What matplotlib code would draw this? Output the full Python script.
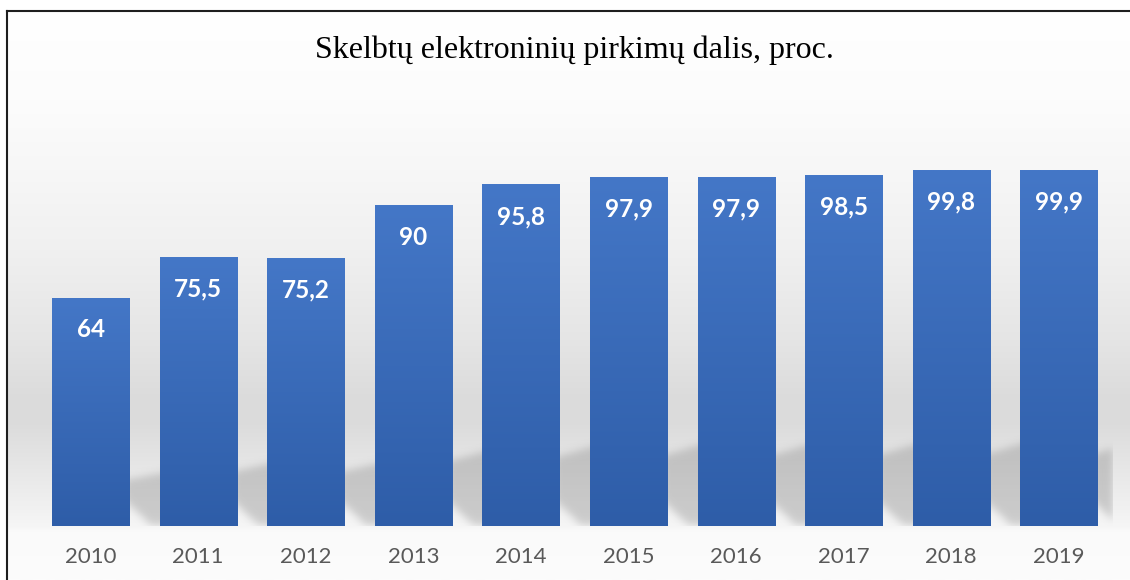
import numpy as np
import matplotlib.pyplot as plt
from matplotlib.path import Path
from matplotlib.lines import Line2D
from matplotlib.colors import LinearSegmentedColormap

plt.rcParams['font.family'] = ['Lato', 'DejaVu Sans']

# data
years = ['2010', '2011', '2012', '2013', '2014', '2015', '2016', '2017', '2018', '2019']
shares = [64, 75.5, 75.2, 90, 95.8, 97.9, 97.9, 98.5, 99.8, 99.9]
title = 'Skelbtų elektroninių pirkimų dalis, proc.'

W, H = 1130, 580
fig = plt.figure(figsize=(W / 100, H / 100), dpi=100)

# background gradient behind the whole chart area
bg = fig.add_axes([7 / W, 0, 1 - 7 / W, 1 - 11 / H], zorder=-5)
rows = np.arange(11, 581)
stops_y = [11, 100, 170, 250, 340, 400, 425, 465, 510, 527, 532, 580]
stops_v = [255, 252, 247, 240, 229, 219, 220, 230, 241, 246, 250, 252]
col = np.interp(rows, stops_y, stops_v) / 255
bg.imshow(np.repeat(col[:, None], 3, axis=1)[:, None, :], aspect='auto',
          extent=(0, 1, 0, 1), interpolation='bilinear')
bg.axis('off')

# main axes
ax = fig.add_axes([36.7 / W, (H - 525.7) / H, 1076 / W, (525.7 - 98.5) / H])
ax.patch.set_alpha(0)
x = np.arange(len(years))
bars = ax.bar(x, shares, width=0.716, color='none', zorder=3)

# gradient fill for each bar
bar_cmap = LinearSegmentedColormap.from_list('bar', ['#2E5DA8', '#4477C7'])
grad = np.linspace(0, 1, 256)[:, None]
for rect in bars:
    x0 = rect.get_x()
    ax.imshow(grad, extent=(x0, x0 + rect.get_width(), 0, rect.get_height()),
              origin='lower', aspect='auto', cmap=bar_cmap, zorder=3)

# soft shadows in the gaps behind the bars
ymax_sh = 40
gx = np.linspace(-0.5, 9.5, 1076)
gy = np.linspace(0, ymax_sh, int(ymax_sh * 3.56))
XX, YY = np.meshgrid(gx, gy)
pts = np.column_stack([XX.ravel(), YY.ravel()])
mask = np.zeros(XX.shape)
for rect in bars:
    x1 = rect.get_x() + rect.get_width()
    h = rect.get_height()
    poly = Path([(x1 - 0.05, 7.3), (x1 + 0.2, 0), (x1 + 0.45, 0),
                 (x1 + 0.45, 0.245 * h), (x1 - 0.05, 0.2 * h), (x1 - 0.05, 7.3)])
    mask = np.maximum(mask, poly.contains_points(pts).reshape(XX.shape))
k = np.exp(-0.5 * (np.arange(-12, 13) / 4.0) ** 2)
k /= k.sum()
mask = np.apply_along_axis(lambda r: np.convolve(r, k, mode='same'), 1, mask)
mask = np.apply_along_axis(lambda c: np.convolve(c, k, mode='same'), 0, mask)
shadow = np.zeros(XX.shape + (4,))
shadow[..., :3] = 0.5
shadow[..., 3] = mask * 0.34
ax.imshow(shadow, extent=(-0.5, 9.5, 0, ymax_sh), origin='lower', aspect='auto',
          interpolation='bilinear', zorder=1)

# value labels
for rect, v in zip(bars, shares):
    ax.annotate(f'{v:g}'.replace('.', ','),
                (rect.get_x() + rect.get_width() / 2, rect.get_height()),
                xytext=(0, -23), textcoords='offset points',
                ha='center', va='center', color='white',
                fontsize=17.5, fontweight='bold', zorder=5)

ax.set_xlim(-0.5, 9.5)
ax.set_ylim(0, 120)
ax.set_xticks(x)
ax.set_xticklabels(years)
ax.tick_params(axis='x', length=0, pad=15, labelsize=16, labelcolor='#595959')
ax.set_yticks([])
for s in ax.spines.values():
    s.set_visible(False)

fig.text(574.5 / W, 1 - 50 / H, title, family='Liberation Serif', fontsize=23,
         ha='center', va='center', color='black')

# frame lines (left and top)
fig.add_artist(Line2D([7 / W, 7 / W], [0, 1 - 11 / H], transform=fig.transFigure,
                      color='#1e1e1e', lw=1.5))
fig.add_artist(Line2D([7 / W, 1], [1 - 11 / H, 1 - 11 / H], transform=fig.transFigure,
                      color='#1e1e1e', lw=1.5))

fig.savefig('out.png', dpi=100)
